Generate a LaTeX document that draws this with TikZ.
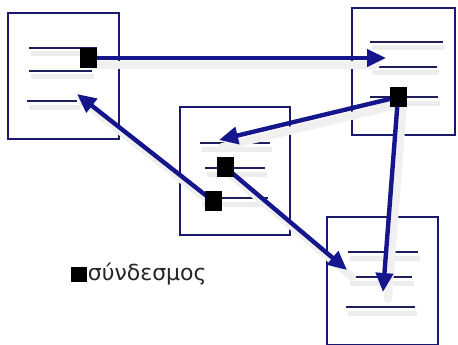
\documentclass[tikz,border=0pt]{standalone}
\usepackage{fontspec}
\setmainfont{DejaVu Sans}
\usetikzlibrary{arrows.meta}
\definecolor{navy}{RGB}{22,22,140}
\definecolor{boxc}{RGB}{25,25,110}
\definecolor{linec}{RGB}{30,30,90}
\begin{document}
\begin{tikzpicture}[x=1pt,y=-1pt,
  page/.style={draw=boxc,line width=2.2pt,fill=white,inner sep=0pt,minimum width=#1},
  txtline/.style={draw=linec,line width=1.5pt},
  shline/.style={draw=black!7,line width=5pt},
  link/.style={draw=navy,line width=4.4pt,-{Triangle[length=19pt,width=17pt]}},
  shlink/.style={draw=black!6,line width=8pt,line cap=round},
  knot/.style={fill=black,inner sep=0pt,minimum width=17pt,minimum height=20pt}]
\useasboundingbox (0,0) rectangle (458,345);
\fill[white] (0,0) rectangle (458,345);
% pages
\node[page=111pt,minimum height=126pt] (A) at (63.5,76) {};
\node[page=103pt,minimum height=127pt] (B) at (403.5,71.5) {};
\node[page=110pt,minimum height=128pt] (C) at (235,171) {};
\node[page=111pt,minimum height=128pt] (D) at (382.5,281) {};
% shadows of text lines
\foreach \a/\b/\y in {31/99/54,31/94/77,29/80/107,372/445/48,372/439/73,372/440/103,202/272/149,207/267/174,202/270/204,350/420/258,350/414/283,348/417/313}
  \draw[shline] (\a,\y) -- (\b,\y);
% text lines
\draw[txtline] (29,48) -- (97,48);
\draw[txtline] (29,71) -- (92,71);
\draw[txtline] (27,101) -- (77,101);
\draw[txtline] (370,42) -- (443,42);
\draw[txtline] (370,67) -- (437,67);
\draw[txtline] (370,97) -- (438,97);
\draw[txtline] (200,143) -- (270,143);
\draw[txtline] (205,168) -- (265,168);
\draw[txtline] (200,198) -- (268,198);
\draw[txtline] (348,252) -- (418,252);
\draw[txtline] (348,277) -- (412,277);
\draw[txtline] (346,307) -- (415,307);
% link squares
\node[knot] (k1) at (88,58) {};
\node[knot] (k2) at (398,97) {};
\node[knot] (k3) at (225,167) {};
\node[knot] (k4) at (213,201) {};
% targets
\coordinate (t1) at (386,58);
\coordinate (t2) at (219,140);
\coordinate (t3) at (383,292);
\coordinate (t4) at (347,270);
\coordinate (t5) at (77,94);
% arrow shadows
\draw[shlink] ([shift={(3,7)}]k1.center) -- ([shift={(-10,7)}]t1);
\draw[shlink] ([shift={(5,7)}]k2.center) -- ([shift={(5,7)}]t3);
\draw[shlink] ([shift={(3,7)}]k2.center) -- ([shift={(3,7)}]t2);
\draw[shlink] ([shift={(5,7)}]k3.center) -- ([shift={(5,7)}]t4);
\draw[shlink] ([shift={(5,7)}]k4.center) -- ([shift={(5,7)}]t5);
% arrows
\draw[link] (k1.center) -- (t1);
\draw[link] (k2.center) -- (t2);
\draw[link] (k2.center) -- (t3);
\draw[link] (k3.center) -- (t4);
\draw[link] (k4.center) -- (t5);
% redraw squares on top
\node[knot] at (k1) {};
\node[knot] at (k2) {};
\node[knot] at (k3) {};
\node[knot] at (k4) {};
% legend
\node[fill=black,inner sep=0pt,minimum width=16pt,minimum height=15pt] (lk) at (78.5,274.5) {};
\node[anchor=west,inner sep=0pt,xshift=1pt,font=\fontsize{22}{26}\selectfont,text=black!85] (lt) at (lk.east) {σύνδεσμος};
\end{tikzpicture}
\end{document}
